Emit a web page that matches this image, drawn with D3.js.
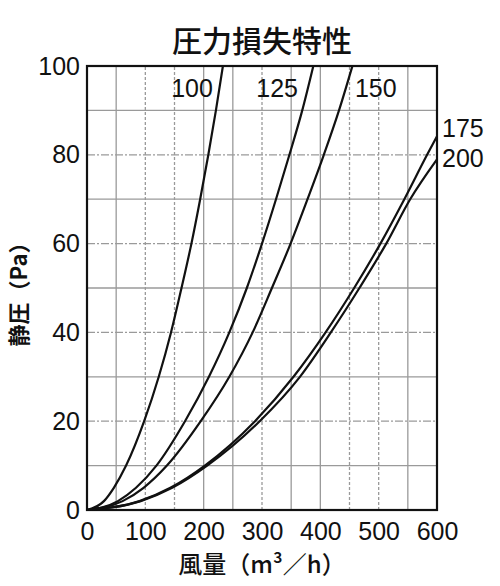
<!DOCTYPE html>
<html>
<head>
<meta charset="utf-8">
<script src="https://cdn.jsdelivr.net/npm/d3@7"></script>
<style>
  html, body { margin: 0; padding: 0; background: #fff; }
  #chart { width: 500px; height: 586px; }
  text { fill: #111; }
  .num { font-family: "Liberation Sans", Arial, sans-serif; font-size: 25px; }
  .jp { font-family: "Noto Sans CJK JP", sans-serif; }
</style>
</head>
<body>
<div id="chart"></div>
<script>
// data: flow (m3/h) at each static pressure (Pa)

const pressure = [0, 2, 5, 10, 20, 30, 40, 50, 60, 70, 80, 90, 100];
const flow100 = [0, 29, 46, 67, 98, 123, 144, 162, 179, 194, 208, 221, 233];
const flow125 = [0, 53, 84, 119, 168, 209, 244, 274, 300, 324, 347, 369, 388];
const flow150 = [0, 61, 97, 137, 195, 244, 284, 317, 349, 378, 406, 432, 455];

const pressure175 = [0, 2, 5, 10, 20, 30, 40, 50, 60, 70, 80, 84.2];
const flow175 = [0, 90, 143, 202, 288, 354, 409, 458, 503, 544, 583, 600];

const pressure200 = [0, 2, 5, 10, 20, 30, 40, 50, 60, 70, 79];
const flow200 = [0, 92, 146, 206, 296, 365, 418, 467, 513, 554, 600];

const seriesNames = ["100", "125", "150", "175", "200"];

const xTicks = [0, 100, 200, 300, 400, 500, 600];
const yTicks = [0, 20, 40, 60, 80, 100];
const xGrid = [50, 100, 150, 200, 250, 300, 350, 400, 450, 500, 550];
const yGrid = [10, 20, 30, 40, 50, 60, 70, 80, 90];

const titleText = "圧力損失特性";
const xLabel = "風量（m³／h）";
const yLabel = "静圧（Pa）";

// 1. svg

const width = 500;
const height = 586;
const margin = { top: 66, left: 87, right: 63, bottom: 76 };

const svg = d3.select("#chart")
    .append("svg")
    .attr("width", width)
    .attr("height", height);

// 2. scales

const xScale = d3.scaleLinear()
    .domain([0, 600])
    .range([margin.left, width - margin.right]);

const yScale = d3.scaleLinear()
    .domain([0, 100])
    .range([height - margin.bottom, margin.top]);

// 3. grid (scanned original mixes solid and dotted lines)

const dottedX = [100, 150, 300, 450, 500];

svg.append("g").selectAll("line")
    .data(xGrid)
    .enter()
    .append("line")
        .attr("x1", d => xScale(d))
        .attr("x2", d => xScale(d))
        .attr("y1", yScale(0))
        .attr("y2", yScale(100))
        .attr("stroke", "#9a9a9a")
        .attr("stroke-width", 1.3)
        .attr("stroke-dasharray", d => dottedX.includes(d) ? "3,2" : null);

svg.append("g").selectAll("line")
    .data(yGrid)
    .enter()
    .append("line")
        .attr("x1", xScale(0))
        .attr("x2", xScale(600))
        .attr("y1", d => yScale(d))
        .attr("y2", d => yScale(d))
        .attr("stroke", "#9a9a9a")
        .attr("stroke-width", 1.3)
        .attr("stroke-dasharray", d => d % 20 === 0 ? "8,2,2,2" : null);

// 4. axes

const xAxis = svg.append("g")
    .attr("transform", `translate(0,${yScale(0)})`)
    .call(d3.axisBottom(xScale).tickValues(xTicks).tickSize(0).tickPadding(12));

const yAxis = svg.append("g")
    .attr("transform", `translate(${xScale(0)},0)`)
    .call(d3.axisLeft(yScale).tickValues(yTicks).tickSize(0).tickPadding(7));

svg.selectAll(".domain").remove();
svg.selectAll(".tick text")
    .attr("class", "num")
    .attr("fill", "#111")
    .style("font-size", "25px")
    .style("font-family", "'Liberation Sans', Arial, sans-serif");

// frame
svg.append("rect")
    .attr("x", xScale(0))
    .attr("y", yScale(100))
    .attr("width", xScale(600) - xScale(0))
    .attr("height", yScale(0) - yScale(100))
    .attr("fill", "none")
    .attr("stroke", "#111")
    .attr("stroke-width", 2.2);

// 5. curves

const series = [
    { name: seriesNames[0], p: pressure, q: flow100 },
    { name: seriesNames[1], p: pressure, q: flow125 },
    { name: seriesNames[2], p: pressure, q: flow150 },
    { name: seriesNames[3], p: pressure175, q: flow175 },
    { name: seriesNames[4], p: pressure200, q: flow200 }
];

const line = d3.line()
    .x(d => xScale(d[0]))
    .y(d => yScale(d[1]))
    .curve(d3.curveMonotoneX);

svg.append("g").selectAll("path")
    .data(series)
    .enter()
    .append("path")
        .attr("d", s => line(s.q.map((q, i) => [q, s.p[i]])))
        .attr("fill", "none")
        .attr("stroke", "#111")
        .attr("stroke-width", 2.2);

// 6. curve labels

const labelPos = [
    { x: xScale(180), y: 97, anchor: "middle" },
    { x: xScale(326), y: 97, anchor: "middle" },
    { x: xScale(495), y: 97, anchor: "middle" },
    { x: xScale(600) + 5, y: 137, anchor: "start" },
    { x: xScale(600) + 5, y: 167, anchor: "start" }
];

svg.append("g").selectAll("text")
    .data(series)
    .enter()
    .append("text")
        .attr("class", "num")
        .attr("x", (d, i) => labelPos[i].x)
        .attr("y", (d, i) => labelPos[i].y)
        .attr("text-anchor", (d, i) => labelPos[i].anchor)
        .text(d => d.name);

// 7. titles

svg.append("text")
    .attr("class", "jp")
    .attr("x", (xScale(0) + xScale(600)) / 2)
    .attr("y", 52)
    .attr("text-anchor", "middle")
    .style("font-size", "30px")
    .style("font-weight", 500)
    .text(titleText);

svg.append("text")
    .attr("class", "jp")
    .attr("x", (xScale(0) + xScale(600)) / 2)
    .attr("y", 573)
    .attr("text-anchor", "middle")
    .style("font-size", "24px")
    .style("font-weight", 500)
    .text(xLabel);

svg.append("text")
    .attr("class", "jp")
    .attr("transform", "rotate(-90)")
    .attr("x", -289)
    .attr("y", 27)
    .attr("text-anchor", "middle")
    .style("font-size", "22px")
    .style("font-weight", 700)
    .text(yLabel);
</script>
</body>
</html>
